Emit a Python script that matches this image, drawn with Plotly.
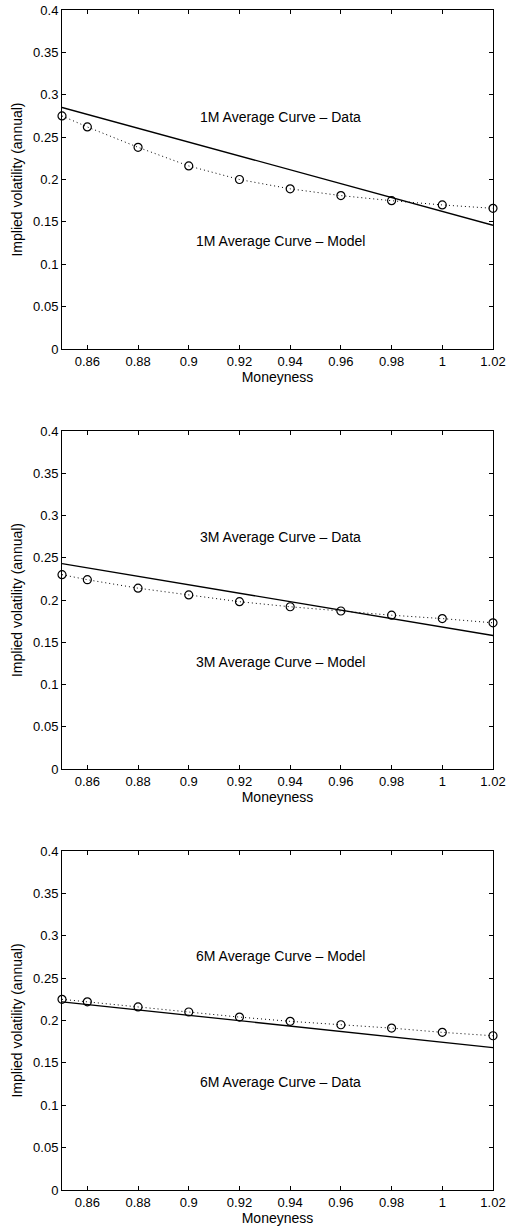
import plotly.graph_objects as go
from plotly.subplots import make_subplots

# Moneyness grid shared by the three maturities
moneyness = [0.85, 0.86, 0.88, 0.90, 0.92, 0.94, 0.96, 0.98, 1.00, 1.02]

# Average implied-volatility curves (circles, dotted)
vol_1m_curve = [0.275, 0.262, 0.238, 0.216, 0.200, 0.189, 0.181, 0.175, 0.170, 0.166]
vol_3m_curve = [0.230, 0.224, 0.214, 0.206, 0.198, 0.192, 0.187, 0.182, 0.178, 0.173]
vol_6m_curve = [0.225, 0.222, 0.216, 0.210, 0.204, 0.199, 0.195, 0.191, 0.186, 0.182]

# Straight-line fits, given by their end points
line_x = [0.85, 1.02]
line_1m = [0.285, 0.146]
line_3m = [0.243, 0.158]
line_6m = [0.222, 0.168]

# Text labels inside each panel: (text, x, y)
labels_1m = [("1M Average Curve \u2013 Data", 0.936, 0.274),
             ("1M Average Curve \u2013 Model", 0.936, 0.128)]
labels_3m = [("3M Average Curve \u2013 Data", 0.936, 0.275),
             ("3M Average Curve \u2013 Model", 0.936, 0.127)]
labels_6m = [("6M Average Curve \u2013 Model", 0.936, 0.276),
             ("6M Average Curve \u2013 Data", 0.936, 0.128)]

x_ticks = [0.86, 0.88, 0.90, 0.92, 0.94, 0.96, 0.98, 1.00, 1.02]
x_ticktext = ["0.86", "0.88", "0.9", "0.92", "0.94", "0.96", "0.98", "1", "1.02"]
y_ticks = [0, 0.05, 0.10, 0.15, 0.20, 0.25, 0.30, 0.35, 0.40]
y_ticktext = ["0", "0.05", "0.1", "0.15", "0.2", "0.25", "0.3", "0.35", "0.4"]

FONT = "Liberation Sans, Arial, Helvetica, sans-serif"

fig = make_subplots(rows=3, cols=1, vertical_spacing=0.0695)

panels = [
    (vol_1m_curve, line_1m, labels_1m),
    (vol_3m_curve, line_3m, labels_3m),
    (vol_6m_curve, line_6m, labels_6m),
]

domains = [[0.7127, 1.0], [0.3568, 0.6432], [0.0, 0.2873]]

for i, (curve, fit, labels) in enumerate(panels, start=1):
    fig.add_trace(go.Scatter(
        x=line_x, y=fit, mode="lines",
        line=dict(color="black", width=1.3),
        showlegend=False, hoverinfo="skip"), row=i, col=1)
    fig.add_trace(go.Scatter(
        x=moneyness, y=curve, mode="lines+markers",
        line=dict(color="black", width=1, dash="1px,3px"),
        marker=dict(symbol="circle-open", size=8, color="black",
                    line=dict(width=1.2, color="black")),
        cliponaxis=False, showlegend=False), row=i, col=1)
    xref = "x" if i == 1 else f"x{i}"
    yref = "y" if i == 1 else f"y{i}"
    for text, tx, ty in labels:
        fig.add_annotation(x=tx, y=ty, xref=xref, yref=yref, text=text,
                           showarrow=False, font=dict(size=14, color="black", family=FONT))
    fig.update_xaxes(
        row=i, col=1, range=[0.85, 1.02], tickvals=x_ticks, ticktext=x_ticktext,
        ticks="inside", ticklen=4, tickcolor="black", tickwidth=1,
        showline=True, linecolor="black", linewidth=1, mirror="ticks",
        showgrid=False, zeroline=False, automargin=False,
        tickfont=dict(size=13, color="black", family=FONT),
        title=dict(text="Moneyness", font=dict(size=14, color="black", family=FONT), standoff=2),
    )
    fig.update_yaxes(
        row=i, col=1, range=[0, 0.4], tickvals=y_ticks, ticktext=y_ticktext,
        domain=domains[i - 1],
        ticks="inside", ticklen=4, tickcolor="black", tickwidth=1,
        showline=True, linecolor="black", linewidth=1, mirror="ticks",
        showgrid=False, zeroline=False, automargin=False,
        tickfont=dict(size=13, color="black", family=FONT),
        title=dict(text="Implied volatility (annual)",
                   font=dict(size=14, color="black", family=FONT), standoff=7),
    )

fig.update_layout(
    width=507, height=1228,
    margin=dict(l=62, r=14, t=10, b=38),
    plot_bgcolor="white", paper_bgcolor="white",
    font=dict(family=FONT, color="black"),
)

fig.write_html("out.html")
